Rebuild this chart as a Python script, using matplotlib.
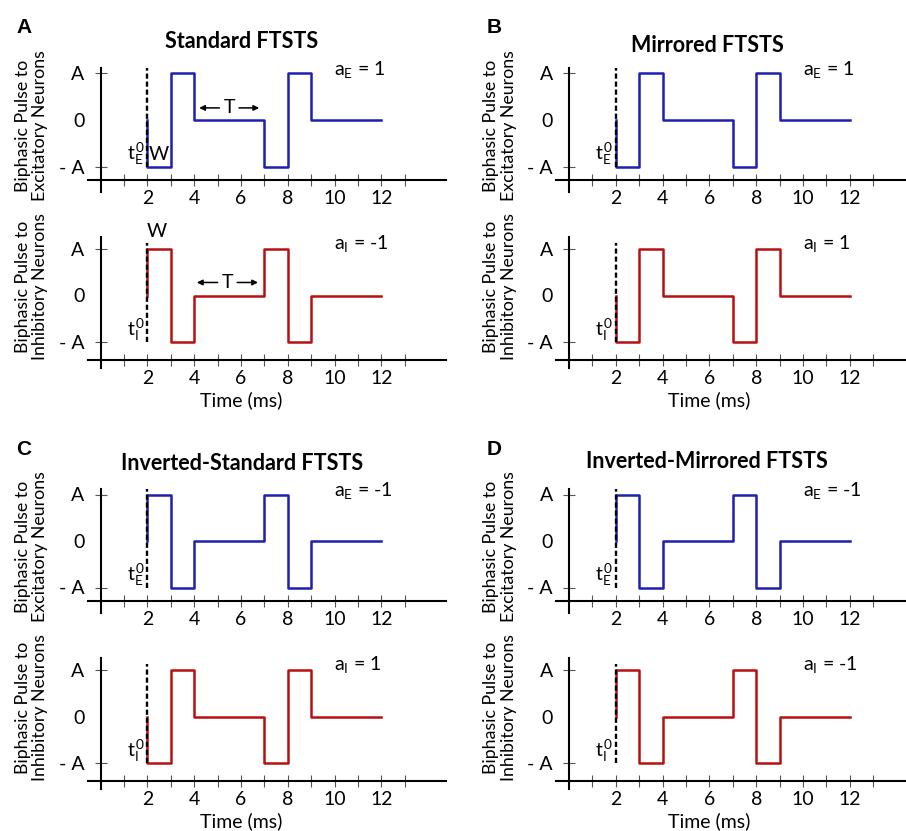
import matplotlib
matplotlib.use("Agg")
from matplotlib import pyplot as plt

plt.rcParams['font.family'] = ['Lato', 'DejaVu Sans']
plt.rcParams['mathtext.fontset'] = 'custom'
plt.rcParams['mathtext.rm'] = 'Lato'
plt.rcParams['mathtext.it'] = 'Lato:italic'
plt.rcParams['mathtext.bf'] = 'Lato:bold'

# pulse timing (ms): onset t0, then edges of each W-wide phase and the T gap
onset = 2
edges = [2, 3, 4, 7, 8, 9, 12]

panels = ['A', 'B', 'C', 'D']
titles = ['Standard FTSTS', 'Mirrored FTSTS',
          'Inverted-Standard FTSTS', 'Inverted-Mirrored FTSTS']
levels_exc = [[-1, 1, 0, -1, 1, 0],
              [-1, 1, 0, -1, 1, 0],
              [1, -1, 0, 1, -1, 0],
              [1, -1, 0, 1, -1, 0]]
levels_inh = [[1, -1, 0, 1, -1, 0],
              [-1, 1, 0, -1, 1, 0],
              [-1, 1, 0, -1, 1, 0],
              [1, -1, 0, 1, -1, 0]]
a_exc = ['1', '1', '-1', '-1']
a_inh = ['-1', '1', '1', '-1']

xticks = list(range(1, 14))
xtick_labels = [str(t) if t % 2 == 0 and t <= 12 else '' for t in xticks]
yticks = [-1, 0, 1]
ytick_labels = ['- A', '0', 'A']

BLUE = '#1f1fb0'
RED = '#b81010'
FS = 14
FS_LABEL = 12.8

W, H = 906, 831
UX, UY = 23.4, 46.5

fig = plt.figure(figsize=(W / 100, H / 100), dpi=100)


def make_axes(x0, y0, axis_y, vtop):
    left, right = x0 - 13, x0 + 345
    top, bottom = y0 - 1.35 * UY, y0 + 1.7 * UY
    ax = fig.add_axes([left / W, 1 - bottom / H, (right - left) / W, (bottom - top) / H])
    ax.set_xlim(-13 / UX, 345 / UX)
    ax.set_ylim(-1.7, 1.35)
    ax.patch.set_visible(False)
    ax.spines['top'].set_visible(False)
    ax.spines['right'].set_visible(False)
    ax.spines['left'].set_position(('data', 0))
    ax.spines['left'].set_bounds(-1.55, vtop)
    ax.spines['bottom'].set_position(('data', axis_y))
    for s in ['left', 'bottom']:
        ax.spines[s].set_linewidth(1.5)
    ax.set_xticks(xticks)
    ax.set_xticklabels(xtick_labels)
    ax.set_yticks(yticks)
    ax.set_yticklabels(ytick_labels)
    ax.tick_params(axis='both', direction='inout', length=9, width=0.8,
                   color='#555555', labelsize=FS)
    ax.tick_params(axis='x', pad=3)
    ax.tick_params(axis='y', pad=7)
    ax.yaxis.get_major_ticks()[1].tick1line.set_visible(False)
    return ax


def draw_pulse(ax, levels, color):
    x = [onset] + edges
    y = [0] + levels + [levels[-1]]
    ax.step(x, y, where='post', color=color, lw=1.8)
    ax.plot([onset, onset], [-1, 1.12], color='k', lw=1.7, ls=(0, (2.2, 1.2)))


def period_arrow(ax, x_from, x_to, y):
    mid = (x_from + x_to) / 2
    ax.text(mid, y, 'T', ha='center', va='center', fontsize=FS)
    ax.annotate('', xy=(x_from, y), xytext=(mid - 0.3, y),
                arrowprops=dict(arrowstyle='-|>', color='k', lw=1.1, mutation_scale=8))
    ax.annotate('', xy=(x_to, y), xytext=(mid + 0.3, y),
                arrowprops=dict(arrowstyle='-|>', color='k', lw=1.1, mutation_scale=8))


col_x0 = [100.5, 569]
row_y0 = [120, 295.5, 541, 716.5]
letter_pos = [(16, 18), (487, 18), (16, 440), (487, 440)]
title_pos = [(242, 42), (707, 45), (242, 464), (707, 462)]

for i, name in enumerate(panels):
    col, row = i % 2, i // 2
    x0 = col_x0[col]
    y_top, y_bot = row_y0[2 * row], row_y0[2 * row + 1]

    ax_e = make_axes(x0, y_top, -1.28, 1.12)
    ax_i = make_axes(x0, y_bot, -1.38, 1.25)

    draw_pulse(ax_e, levels_exc[i], BLUE)
    draw_pulse(ax_i, levels_inh[i], RED)

    ax_e.text(1.9, -0.73, r'$\mathregular{t_E^{\,0}}$', ha='right', va='center', fontsize=FS)
    ax_i.text(1.9, -0.73, r'$\mathregular{t_I^{\,0}}$', ha='right', va='center', fontsize=FS)
    ax_e.text(10, 1.08, r'$\mathregular{a_E}$ = ' + a_exc[i], ha='left', va='center', fontsize=FS)
    ax_i.text(10, 1.12, r'$\mathregular{a_I}$ = ' + a_inh[i], ha='left', va='center', fontsize=FS)
    ax_i.text(6, -1.38 - 41 / UY, 'Time (ms)', ha='center', va='center', fontsize=FS)

    fig.text((x0 - 69) / W, 1 - (y_top + 6) / H, 'Biphasic Pulse to\nExcitatory Neurons',
             rotation=90, ha='center', va='center', multialignment='center',
             fontsize=FS_LABEL, linespacing=1.15)
    fig.text((x0 - 69) / W, 1 - (y_bot - 9) / H, 'Biphasic Pulse to\nInhibitory Neurons',
             rotation=90, ha='center', va='center', multialignment='center',
             fontsize=FS_LABEL, linespacing=1.15)

    lx, ly = letter_pos[i]
    fig.text(lx / W, 1 - ly / H, name, ha='left', va='top', fontsize=15,
             fontweight='bold', family='Liberation Sans')
    tx, ty = title_pos[i]
    fig.text(tx / W, 1 - ty / H, titles[i], ha='center', va='center', fontsize=15.5,
             fontweight='bold')

    if name == 'A':
        ax_e.text(2.5, -0.75, 'W', ha='center', va='center', fontsize=FS)
        ax_i.text(2.4, 1.38, 'W', ha='center', va='center', fontsize=FS)
        period_arrow(ax_e, 4.1, 6.9, 0.26)
        period_arrow(ax_i, 4.0, 6.85, 0.28)

fig.savefig('out.png', dpi=100)
